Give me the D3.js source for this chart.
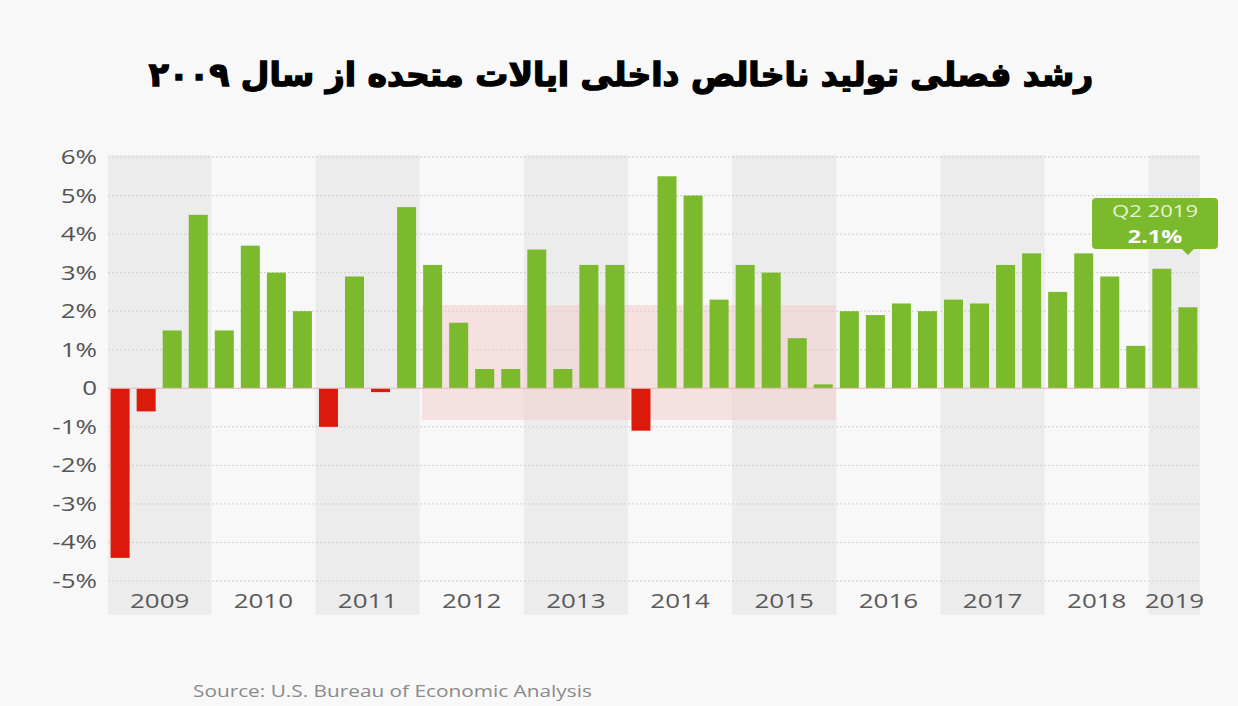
<!DOCTYPE html>
<html>
<head>
<meta charset="utf-8">
<script src="https://cdn.jsdelivr.net/npm/d3@7"></script>
<style>
  body { margin: 0; background: #f8f8f8; }
  svg { display: block; }
</style>
</head>
<body>
<script>
// quarterly growth, annualized, Q1 2009 .. Q2 2019
const years = ["2009","2010","2011","2012","2013","2014","2015","2016","2017","2018","2019"];
const quarters = ["Q1","Q2","Q3","Q4"];
const growth = [
  -4.4, -0.6, 1.5, 4.5,
  1.5, 3.7, 3.0, 2.0,
  -1.0, 2.9, -0.1, 4.7,
  3.2, 1.7, 0.5, 0.5,
  3.6, 0.5, 3.2, 3.2,
  -1.1, 5.5, 5.0, 2.3,
  3.2, 3.0, 1.3, 0.1,
  2.0, 1.9, 2.2, 2.0,
  2.3, 2.2, 3.2, 3.5,
  2.5, 3.5, 2.9, 1.1,
  3.1, 2.1
];
const yTicks = [6, 5, 4, 3, 2, 1, 0, -1, -2, -3, -4, -5];

const width = 1238, height = 706;
const plotLeft = 108, plotRight = 1200, plotTop = 157, plotBottom = 581;
const stretch = 1.3; // the source image text is wide

// build the quarter keys
const keys = growth.map((v, i) => years[Math.floor(i / 4)] + "-" + quarters[i % 4]);

const x = d3.scaleBand().domain(keys).range([plotLeft, plotRight]).paddingInner(0.27).paddingOuter(0.1);
const y = d3.scaleLinear().domain([6, -5]).range([plotTop, plotBottom]);

const svg = d3.select("body").append("svg")
  .attr("width", width).attr("height", height);

svg.append("rect").attr("width", width).attr("height", height).attr("fill", "#f8f8f8");

// wide text helper
const wide = (sel, tx, ty) => sel.attr("transform", `translate(${tx},${ty}) scale(${stretch},1)`);

// year bands (every other one shaded)
years.forEach((yr, i) => {
  const qs = keys.filter(k => k.startsWith(yr));
  const half = x.step() * x.paddingInner() / 2;
  const x0 = i === 0 ? plotLeft : x(qs[0]) - half;
  const last = qs[qs.length - 1];
  const x1 = i === years.length - 1 ? plotRight : x(last) + x.bandwidth() + half;
  if (i % 2 === 0) {
    svg.append("rect")
      .attr("x", x0).attr("y", plotTop - 2)
      .attr("width", x1 - x0).attr("height", 617 - plotTop)
      .attr("fill", "#ececec");
  }
  svg.append("text")
    .call(wide, (x0 + x1) / 2, 608)
    .attr("text-anchor", "middle")
    .attr("font-family", "Open Sans, sans-serif")
    .attr("font-size", 20)
    .attr("fill", "#5a5a5a")
    .text(yr);
});

// grid
svg.selectAll("line.grid").data(yTicks.filter(d => d !== 0)).join("line")
  .attr("class", "grid")
  .attr("x1", plotLeft).attr("x2", plotRight)
  .attr("y1", d => y(d)).attr("y2", d => y(d))
  .attr("stroke", "#cfcfcf").attr("stroke-width", 1)
  .attr("stroke-dasharray", "2,2");

// faint watermark box
svg.append("rect")
  .attr("x", 422).attr("y", 305).attr("width", 414).attr("height", 115)
  .attr("fill", "#f3c9c9").attr("opacity", 0.5);

// y axis labels
svg.selectAll("text.ytick").data(yTicks).join("text")
  .attr("class", "ytick")
  .each(function (d) { d3.select(this).call(wide, 97, y(d) + 7); })
  .attr("text-anchor", "end")
  .attr("font-family", "Open Sans, sans-serif")
  .attr("font-size", 20)
  .attr("fill", "#555")
  .text(d => d === 0 ? "0" : d + "%");

// bars
svg.selectAll("rect.bar").data(growth).join("rect")
  .attr("class", "bar")
  .attr("x", (d, i) => x(keys[i]))
  .attr("width", x.bandwidth())
  .attr("y", d => y(Math.max(0, d)))
  .attr("height", d => Math.abs(y(d) - y(0)))
  .attr("fill", d => d < 0 ? "#dc1a0b" : "#7cba2d");

// zero line
svg.append("line")
  .attr("x1", plotLeft).attr("x2", plotRight)
  .attr("y1", y(0)).attr("y2", y(0))
  .attr("stroke", "#e4b8b8").attr("stroke-width", 1);

// tooltip for last quarter
const lastKey = keys[keys.length - 1];
const tipX = x(lastKey) + x.bandwidth() / 2;
const tip = svg.append("g");
tip.append("rect")
  .attr("x", 1092).attr("y", 198).attr("width", 126).attr("height", 51)
  .attr("rx", 4).attr("fill", "#7cba2d");
tip.append("path")
  .attr("d", `M${tipX - 7},248 L${tipX},255 L${tipX + 7},248 Z`)
  .attr("fill", "#7cba2d");
tip.append("text")
  .call(wide, 1155, 217)
  .attr("text-anchor", "middle")
  .attr("font-family", "Open Sans, sans-serif")
  .attr("font-size", 17)
  .attr("fill", "#e6f2d6")
  .text("Q2 2019");
tip.append("text")
  .call(wide, 1155, 243)
  .attr("text-anchor", "middle")
  .attr("font-family", "Open Sans, sans-serif")
  .attr("font-size", 18)
  .attr("font-weight", "bold")
  .attr("fill", "#fff")
  .text(growth[growth.length - 1] + "%");

// title
svg.append("text")
  .attr("x", 621).attr("y", 86)
  .attr("text-anchor", "middle")
  .attr("direction", "rtl")
  .attr("font-family", "DejaVu Sans, sans-serif")
  .attr("font-size", 33)
  .attr("font-weight", "bold")
  .attr("fill", "#000")
  .attr("stroke", "#000")
  .attr("stroke-width", 1.4)
  .text("رشد فصلی تولید ناخالص داخلی ایالات متحده از سال ۲۰۰۹");

// source
svg.append("text")
  .call(wide, 193, 697)
  .attr("font-family", "Open Sans, sans-serif")
  .attr("font-size", 16)
  .attr("fill", "#8a8a8a")
  .text("Source: U.S. Bureau of Economic Analysis");
</script>
</body>
</html>
